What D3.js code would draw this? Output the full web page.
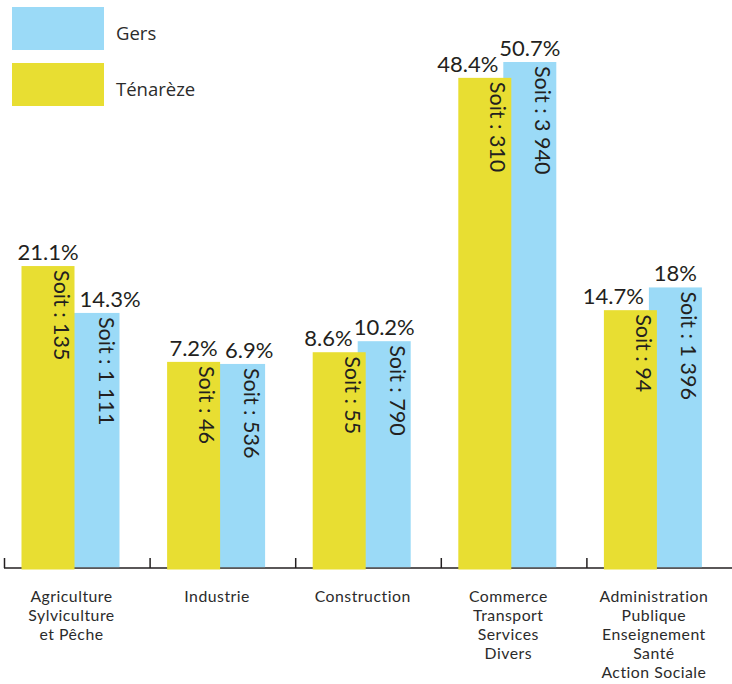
<!DOCTYPE html>
<html>
<head>
<meta charset="utf-8">
<script src="https://cdn.jsdelivr.net/npm/d3@7"></script>
<style>
  body { margin: 0; background: #fff; }
  svg { display: block; }
  .cat { font-family: Lato, sans-serif; font-size: 15.8px; letter-spacing: 0.5px; fill: #2b2b2b; }
  .pct { font-family: Lato, sans-serif; font-size: 22px; fill: #231f20; }
  .soit { font-family: Lato, sans-serif; font-size: 21.5px; fill: #231f20; }
  .legend { font-family: "Open Sans", sans-serif; font-size: 18.5px; fill: #2b2b2b; }
</style>
</head>
<body>
<div id="chart"></div>
<script>
// categories, one array of lines per label
var categories = [
  ["Agriculture", "Sylviculture", "et Pêche"],
  ["Industrie"],
  ["Construction"],
  ["Commerce", "Transport", "Services", "Divers"],
  ["Administration", "Publique", "Enseignement", "Santé", "Action Sociale"]
];
var tenarezePct = [21.1, 7.2, 8.6, 48.4, 14.7];
var gersPct = [14.3, 6.9, 10.2, 50.7, 18];
var tenarezeCount = [135, 46, 55, 310, 94];
var gersCount = [1111, 536, 790, 3940, 1396];
var seriesNames = ["Gers", "Ténarèze"];

var width = 732, height = 684, baseY = 568;
var yellow = "#e8de32", blue = "#9bdaf7";
var barW = 53, barShift = 45, barStart = 17.5;

var svg = d3.select('#chart').append('svg')
  .attr('width', width)
  .attr('height', height);

var x = d3.scaleBand()
  .domain(d3.range(categories.length))
  .range([4, 732]);

// the bars of the picture don't start from 0%, the zero sits above the baseline
var y = d3.scaleLinear()
  .domain([-22.7, 50.7])
  .range([baseY, 62]);

var fr = d3.formatLocale({ decimal: ",", thousands: " ", grouping: [3], currency: ["", "€"] });
var fmtCount = fr.format(",d");

// axis line + ticks at the band edges
svg.append('line')
  .attr('x1', 4).attr('x2', width)
  .attr('y1', baseY).attr('y2', baseY)
  .attr('stroke', '#231f20').attr('stroke-width', 1.5);
svg.selectAll('line.tick')
  .data(d3.range(categories.length))
  .join('line')
  .attr('class', 'tick')
  .attr('x1', function (d) { return x(d) + 0.5; })
  .attr('x2', function (d) { return x(d) + 0.5; })
  .attr('y1', baseY).attr('y2', baseY - 10)
  .attr('stroke', '#231f20').attr('stroke-width', 1.5);

var series = [
  { name: seriesNames[0], pct: gersPct, count: gersCount, color: blue, offset: barShift, extra: -0.8 },
  { name: seriesNames[1], pct: tenarezePct, count: tenarezeCount, color: yellow, offset: 0, extra: 1.5 }
];

// Gers first, Ténarèze drawn over it
series.forEach(function (s) {
  svg.selectAll(null)
    .data(s.pct)
    .join('rect')
    .attr('x', function (d, i) { return x(i) + barStart + s.offset; })
    .attr('y', function (d) { return y(d); })
    .attr('width', barW)
    .attr('height', function (d) { return baseY - y(d) + s.extra; })
    .attr('fill', s.color);
});

series.forEach(function (s) {
  svg.selectAll(null)
    .data(s.pct)
    .join('text')
    .attr('class', 'soit')
    .attr('transform', function (d, i) {
      return 'translate(' + (x(i) + barStart + s.offset + 32) + ',' + (y(d) + 4) + ') rotate(90)';
    })
    .text(function (d, i) { return 'Soit : ' + fmtCount(s.count[i]); });
});

// percentage labels, the shorter bar's label moves away from the taller bar
d3.range(categories.length).forEach(function (i) {
  var yLeft = x(i) + barStart, bLeft = yLeft + barShift;
  var ty = svg.append('text').attr('class', 'pct')
    .attr('text-anchor', 'middle')
    .attr('y', y(tenarezePct[i]) - 6)
    .text(tenarezePct[i] + '%');
  var tb = svg.append('text').attr('class', 'pct')
    .attr('text-anchor', 'middle')
    .attr('y', y(gersPct[i]) - 6)
    .text(gersPct[i] + '%');
  var wy = ty.node().getComputedTextLength();
  var wb = tb.node().getComputedTextLength();
  var cy = yLeft + barW / 2, cb = bLeft + barW / 2;
  if (tenarezePct[i] < gersPct[i]) cy = Math.min(cy, bLeft - 5 - wy / 2);
  else cb = Math.max(cb, yLeft + barW + 5 + wb / 2);
  ty.attr('x', cy);
  tb.attr('x', cb);
});

// category labels
var catText = svg.selectAll('text.cat')
  .data(categories)
  .join('text')
  .attr('class', 'cat')
  .attr('text-anchor', 'middle')
  .attr('transform', function (d, i) {
    return 'translate(' + (x(i) + barStart + (barShift + barW) / 2 + 1) + ',602)';
  });
catText.selectAll('tspan')
  .data(function (d) { return d; })
  .join('tspan')
  .attr('x', 0)
  .attr('y', function (d, j) { return j * 19; })
  .text(function (d) { return d; });

// legend
var legend = svg.selectAll('g.legend')
  .data([{ name: seriesNames[0], color: blue }, { name: seriesNames[1], color: yellow }])
  .join('g')
  .attr('transform', function (d, i) { return 'translate(12,' + (7 + i * 56) + ')'; });
legend.append('rect')
  .attr('width', 92).attr('height', 43)
  .attr('fill', function (d) { return d.color; });
legend.append('text')
  .attr('class', 'legend')
  .attr('x', 104).attr('y', 33)
  .text(function (d) { return d.name; });
</script>
</body>
</html>
